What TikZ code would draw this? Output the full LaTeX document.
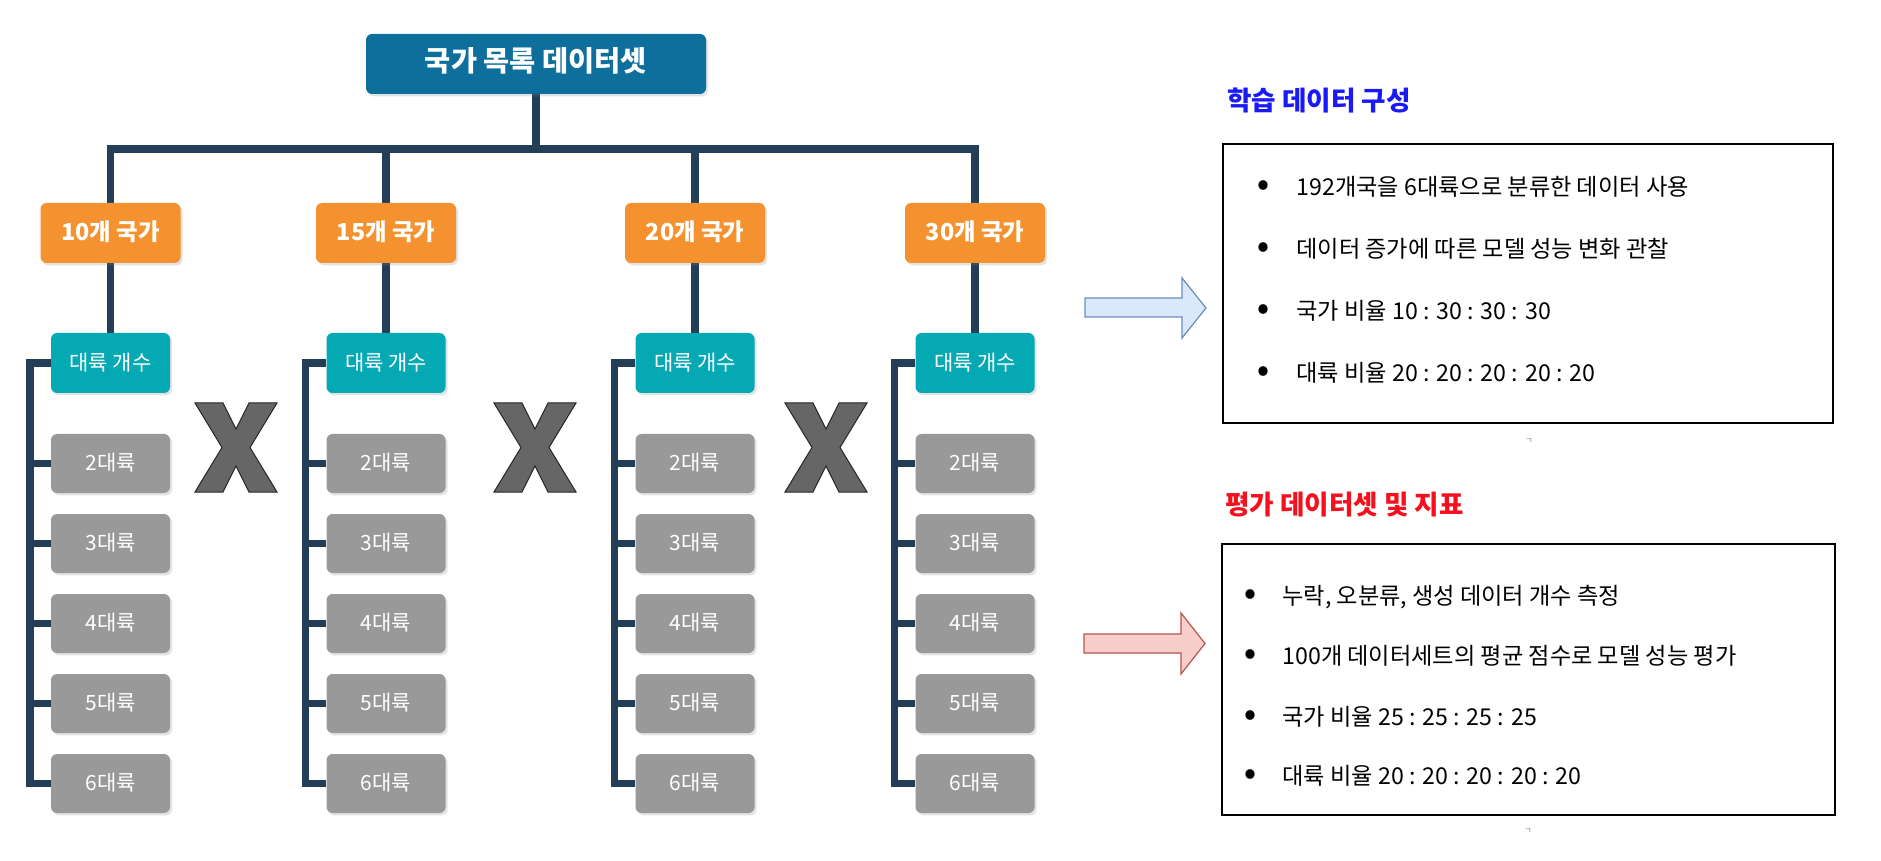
\documentclass[tikz,border=0pt]{standalone}
\usepackage{fontspec}
\setmainfont{Noto Sans CJK KR}
\usetikzlibrary{shadows,backgrounds}
\definecolor{titleblue}{HTML}{0F6F9C}
\definecolor{orng}{HTML}{F4922F}
\definecolor{tealb}{HTML}{05A9B4}
\definecolor{grayb}{HTML}{999999}
\definecolor{navy}{HTML}{233F58}
\definecolor{xgray}{HTML}{666666}
\definecolor{ttlblue}{HTML}{1A1AF5}
\definecolor{ttlred}{HTML}{F5101E}
\definecolor{arrbluefill}{HTML}{DAE8FC}
\definecolor{arrbluedraw}{HTML}{6C8EBF}
\definecolor{arrredfill}{HTML}{F8CECC}
\definecolor{arrreddraw}{HTML}{B85450}
\begin{document}
\begin{tikzpicture}[x=0.5pt,y=-0.5pt,
 txt/.style={inner sep=0pt, text height=0.8em, text depth=0.08em},
 box/.style={txt, rounded corners=3pt, text=white,
   drop shadow={shadow xshift=1pt, shadow yshift=-1.2pt, opacity=0.22}},
 titlebox/.style={box, fill=titleblue, minimum width=170pt, minimum height=30pt,
   font=\fontsize{14.2}{17}\selectfont\bfseries},
 countbox/.style={box, fill=orng, minimum width=70pt, minimum height=30pt,
   font=\fontsize{11.7}{14}\selectfont\bfseries},
 contbox/.style={box, fill=tealb, minimum width=59.5pt, minimum height=30pt,
   font=\fontsize{10.5}{13}\selectfont},
 nbox/.style={box, fill=grayb, minimum width=59.5pt, minimum height=29.5pt,
   font=\fontsize{10.5}{13}\selectfont},
 conn/.style={draw=navy, line width=3.75pt, line join=miter},
 xmark/.style={fill=xgray, draw=black!85, line width=0.5pt},
 heading/.style={txt, anchor=west, font=\fontsize{13.3}{16}\selectfont\bfseries},
 panel/.style={draw=black, line width=0.75pt, inner sep=0pt},
 item/.style={txt, anchor=west, font=\fontsize{11.6}{14}\selectfont},
 dot/.style={inner sep=0pt, font=\fontsize{15}{16}\selectfont\bfseries},
 tick/.style={txt, font=\fontsize{4}{5}\selectfont, text=black!50}
]
\useasboundingbox (0,0) rectangle (1881,861);

% tree nodes
\node[titlebox] (t) at (536,64) {국가 목록 데이터셋};
\foreach \i/\x/\n in {1/110.5/10,2/386/15,3/695/20,4/975/30}{
  \node[countbox] (o\i) at (\x,233) {{\n}개 국가};
  \node[contbox] (c\i) at (\x,363) {대륙 개수};
  \coordinate (b\i) at ([xshift=-10.25pt]c\i.west);
  \foreach \k in {2,...,6}{
    \node[nbox] (g\i-\k) at (\x,{463.5+80*(\k-2)}) {{\k}대륙};
  }
}

% connectors
\begin{scope}[on background layer]
  \fill[white] (0,0) rectangle (1881,861);
  \coordinate (bus) at (0,149);
  \draw[conn] (t.south) -- (t.south |- bus);
  \draw[conn] (o1.north) -- (o1.north |- bus) -- (o4.north |- bus) -- (o4.north);
  \draw[conn] (o2.north) -- (o2.north |- bus);
  \draw[conn] (o3.north) -- (o3.north |- bus);
  \foreach \i in {1,2,3,4}{
    \draw[conn] (o\i.south) -- (c\i.north);
    \draw[conn] (c\i.west) -- (b\i) |- (g\i-6.west);
    \foreach \k in {2,...,5}{
      \draw[conn] (g\i-\k.west) -- (g\i-\k.west -| b\i);
    }
  }
\end{scope}

% X marks
\foreach \cx in {236,535,826}{
  \draw[xmark, shift={({\cx-41},403)}] (0,0) -- (28,0) -- (41,26) -- (54,0) -- (82,0)
    -- (55,44.5) -- (82,89) -- (54,89) -- (41,63) -- (28,89) -- (0,89) -- (27,44.5) -- cycle;
}

% arrows
\draw[fill=arrbluefill, draw=arrbluedraw, line width=0.6pt]
  (1085,298) -- (1182,298) -- (1182,278) -- (1206,308) -- (1182,338) -- (1182,317) -- (1085,317) -- cycle;
\draw[fill=arrredfill, draw=arrreddraw, line width=0.6pt]
  (1084,634) -- (1181,634) -- (1181,613) -- (1205,643.5) -- (1181,674) -- (1181,653) -- (1084,653) -- cycle;

% training panel
\node[heading, text=ttlblue] (h1) at (1227,103) {학습 데이터 구성};
\node[panel, minimum width=305pt, minimum height=139.5pt] (p1) at (1528,283.5) {};
\foreach \y/\s in {188/{192개국을 6대륙으로 분류한 데이터 사용},
                   250/{데이터 증가에 따른 모델 성능 변화 관찰},
                   312/{국가 비율 10 : 30 : 30 : 30},
                   374/{대륙 비율 20 : 20 : 20 : 20 : 20}}{
  \node[dot] at (1263,\y) {•};
  \node[item] at (1296,\y) {\s};
}
\node[tick] (k1) at (1529,436) {ㄱ};

% evaluation panel
\node[heading, text=ttlred] (h2) at (1225,507) {평가 데이터셋 및 지표};
\node[panel, minimum width=306.5pt, minimum height=135.5pt] (p2) at (1528.5,679.5) {};
\foreach \y/\s in {597/{누락, 오분류, 생성 데이터 개수 측정},
                   657/{100개 데이터세트의 평균 점수로 모델 성능 평가},
                   718/{국가 비율 25 : 25 : 25 : 25},
                   777/{대륙 비율 20 : 20 : 20 : 20 : 20}}{
  \node[dot] at (1250,\y) {•};
  \node[item] at (1282,\y) {\s};
}
\node[tick] (k2) at (1528,826) {ㄱ};
\end{tikzpicture}
\end{document}
